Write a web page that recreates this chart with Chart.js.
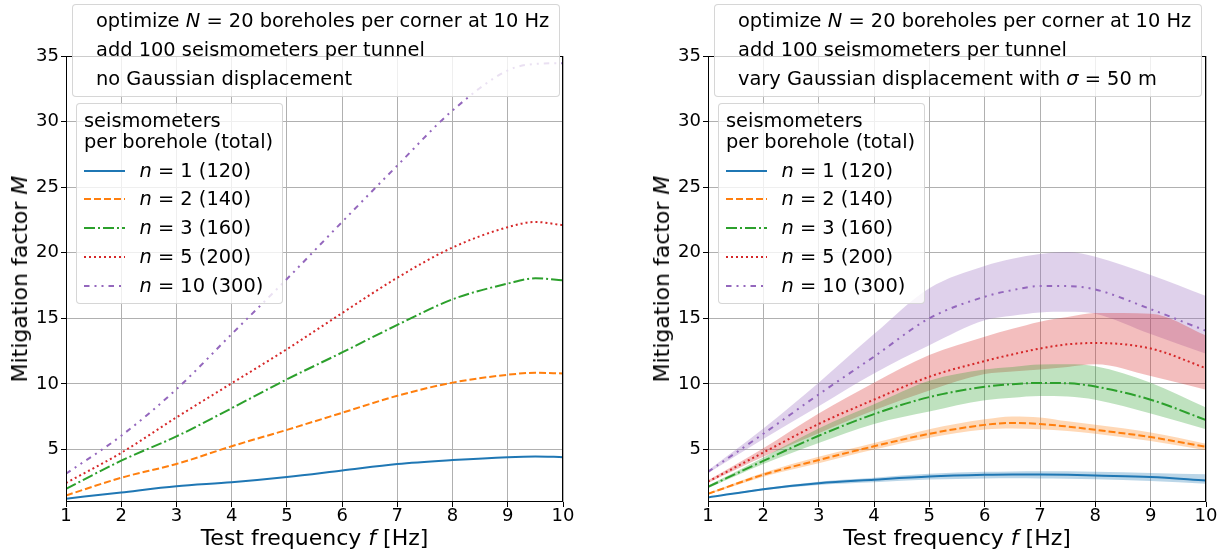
<!DOCTYPE html>
<html>
<head>
<meta charset="utf-8">
<script src="https://cdn.jsdelivr.net/npm/chart.js@4"></script>
<style>
  html, body { margin: 0; padding: 0; background: #fff; }
  body { width: 1231px; height: 556px; position: relative; overflow: hidden; font-family: 'DejaVu Sans', sans-serif; color: #000; }
  canvas { position: absolute; top: 0; }
  .box { position: absolute; background: rgba(255,255,255,0.8); border: 1px solid rgba(204,204,204,0.8); border-radius: 4px; box-sizing: border-box; }
  .txt { position: absolute; font-size: 19.4px; line-height: 24px; white-space: nowrap; }
  .axis-title { position: absolute; font-size: 22px; line-height: 26px; white-space: nowrap; transform: translate(-50%, -50%); }
  .axis-title.y { transform: translate(-50%, -50%) rotate(-90deg); }
  .handle { position: absolute; height: 6px; line-height: 0; }
  .handle svg { display: block; }
</style>
</head>
<body>
<canvas id="leftChart" width="615" height="556" style="left:0"></canvas>
<canvas id="rightChart" width="616" height="556" style="left:615px"></canvas>
<div id="overlay"></div>
<script>
// axis ticks
const xTicks = [1, 2, 3, 4, 5, 6, 7, 8, 9, 10];
const yTicks = [5, 10, 15, 20, 25, 30, 35];

// legend entries
const nValues = [1, 2, 3, 5, 10];
const totals = [120, 140, 160, 200, 300];

// left panel: no Gaussian displacement
const leftFreqs = [1, 2, 3, 4, 5, 6, 7, 8, 9, 9.5, 10];
const leftN1 = [1.25, 1.73, 2.2, 2.5, 2.9, 3.4, 3.9, 4.2, 4.42, 4.47, 4.42];
const leftN2 = [1.5, 2.85, 3.9, 5.25, 6.5, 7.8, 9.1, 10.1, 10.7, 10.85, 10.8];
const leftN3 = [2.0, 4.15, 6.0, 8.15, 10.35, 12.4, 14.5, 16.45, 17.65, 18.05, 17.9];
const leftN5 = [2.45, 4.75, 7.45, 10.05, 12.65, 15.4, 18.1, 20.4, 21.95, 22.35, 22.1];
const leftN10 = [3.15, 6.05, 9.6, 13.8, 18.0, 22.35, 26.65, 30.85, 33.9, 34.4, 34.45];

// right panel: Gaussian displacement, sigma = 50 m (line, low, high)
const rightFreqs = [1, 2, 3, 4, 5, 6, 6.5, 7, 7.5, 8, 9, 10];
const rightN1 = [1.35, 1.98, 2.43, 2.7, 2.94, 3.07, 3.1, 3.1, 3.08, 3.02, 2.9, 2.64];
const rightN1Lo = [1.33, 1.9, 2.3, 2.5, 2.72, 2.8, 2.82, 2.8, 2.78, 2.74, 2.6, 2.4];
const rightN1Hi = [1.37, 2.05, 2.55, 2.85, 3.15, 3.3, 3.33, 3.35, 3.34, 3.3, 3.22, 3.12];
const rightN2 = [1.62, 3.08, 4.2, 5.25, 6.2, 6.88, 7.03, 6.95, 6.75, 6.5, 5.95, 5.2];
const rightN2Lo = [1.57, 2.93, 3.95, 5.0, 5.9, 6.52, 6.6, 6.55, 6.42, 6.2, 5.65, 4.95];
const rightN2Hi = [1.67, 3.23, 4.45, 5.5, 6.55, 7.3, 7.52, 7.45, 7.15, 6.88, 6.3, 5.45];
const rightN3 = [2.15, 4.13, 6.05, 7.7, 9.0, 9.78, 9.98, 10.08, 10.05, 9.8, 8.8, 7.25];
const rightN3Lo = [2.05, 3.9, 5.5, 6.95, 7.9, 8.75, 8.95, 9.08, 9.05, 8.8, 7.75, 6.55];
const rightN3Hi = [2.25, 4.4, 6.6, 8.45, 10.25, 11.1, 11.3, 11.48, 11.5, 11.35, 10.1, 8.2];
const rightN5 = [2.55, 4.77, 6.95, 8.8, 10.55, 11.75, 12.25, 12.7, 13.02, 13.12, 12.7, 11.2];
const rightN5Lo = [2.45, 4.45, 6.25, 8.0, 9.5, 10.75, 10.95, 11.1, 11.3, 11.5, 10.6, 9.55];
const rightN5Hi = [2.65, 5.1, 7.75, 10.1, 12.2, 13.6, 14.2, 14.75, 15.1, 15.4, 15.35, 13.7];
const rightN10 = [3.3, 6.2, 9.2, 12.08, 15.0, 16.65, 17.15, 17.46, 17.46, 17.2, 15.7, 14.05];
const rightN10Lo = [3.2, 5.8, 8.3, 10.8, 12.95, 14.85, 15.2, 15.45, 15.5, 15.35, 13.8, 12.3];
const rightN10Hi = [3.4, 6.6, 10.1, 13.8, 17.3, 19.0, 19.55, 19.9, 20.05, 19.7, 18.3, 16.7];

const colors = ['#1f77b4', '#ff7f0e', '#2ca02c', '#d62728', '#9467bd'];
const bandColors = ['rgba(31,119,180,0.3)', 'rgba(255,127,14,0.3)', 'rgba(44,160,44,0.3)', 'rgba(214,39,40,0.3)', 'rgba(148,103,189,0.3)'];
const dashes = [[], [7, 3], [11, 3, 2, 3], [2, 3], [5.5, 5, 2, 5, 2, 5]];

const toPoints = (xs, ys) => xs.map((x, i) => ({ x: x, y: ys[i] }));

// black box round the plot area, like matplotlib spines
const framePlugin = {
  id: 'frame',
  afterDatasetsDraw(chart) {
    const { ctx, chartArea: a } = chart;
    ctx.save();
    ctx.strokeStyle = '#000';
    ctx.lineWidth = 1;
    ctx.strokeRect(Math.round(a.left) + 0.5, Math.round(a.top) + 0.5,
      Math.round(a.right - a.left) - 1, Math.round(a.bottom - a.top) - 1);
    ctx.restore();
  }
};

function buildOptions(yWidth, rightPad) {
  const grid = { color: '#b0b0b0', lineWidth: 1, tickColor: '#000', tickLength: 5, tickWidth: 1 };
  const tickFont = { family: 'DejaVu Sans', size: 18, lineHeight: 1 };
  return {
    responsive: false,
    animation: false,
    layout: { padding: { top: 56, right: rightPad, left: 0, bottom: 0 } },
    plugins: { legend: { display: false }, tooltip: { enabled: false } },
    elements: { point: { radius: 0 }, line: { borderWidth: 2, cubicInterpolationMode: 'monotone' } },
    scales: {
      x: {
        type: 'linear', min: 1, max: 10,
        afterBuildTicks: s => { s.ticks = xTicks.map(v => ({ value: v })); },
        afterFit: s => { s.height = 54; },
        grid: grid,
        border: { display: false },
        ticks: { font: tickFont, color: '#000', padding: 0, autoSkip: false, maxRotation: 0 }
      },
      y: {
        type: 'linear', min: 1, max: 35,
        afterBuildTicks: s => { s.ticks = yTicks.map(v => ({ value: v })); },
        afterFit: s => { s.width = yWidth; },
        grid: grid,
        border: { display: false },
        ticks: { font: tickFont, color: '#000', padding: 2, autoSkip: false }
      }
    }
  };
}

// left chart
const leftSeries = [leftN1, leftN2, leftN3, leftN5, leftN10];
new Chart(document.getElementById('leftChart').getContext('2d'), {
  type: 'line',
  data: {
    datasets: leftSeries.map((ys, i) => ({
      data: toPoints(leftFreqs, ys),
      borderColor: colors[i],
      borderDash: dashes[i],
      fill: false
    }))
  },
  options: buildOptions(66, 615 - 563),
  plugins: [framePlugin]
});

// right chart with bands
const rightSeries = [rightN1, rightN2, rightN3, rightN5, rightN10];
const rightLo = [rightN1Lo, rightN2Lo, rightN3Lo, rightN5Lo, rightN10Lo];
const rightHi = [rightN1Hi, rightN2Hi, rightN3Hi, rightN5Hi, rightN10Hi];
const rightDatasets = [];
rightSeries.forEach((ys, i) => {
  rightDatasets.push({
    data: toPoints(rightFreqs, rightLo[i]),
    borderColor: 'rgba(0,0,0,0)', borderWidth: 0, fill: false, order: 2
  });
  rightDatasets.push({
    data: toPoints(rightFreqs, rightHi[i]),
    borderColor: 'rgba(0,0,0,0)', borderWidth: 0, fill: '-1',
    backgroundColor: bandColors[i], order: 2
  });
  rightDatasets.push({
    data: toPoints(rightFreqs, ys),
    borderColor: colors[i], borderDash: dashes[i], fill: false, order: 1
  });
});
new Chart(document.getElementById('rightChart').getContext('2d'), {
  type: 'line',
  data: { datasets: rightDatasets },
  options: buildOptions(708 - 615, 616 - (1206 - 615)),
  plugins: [framePlugin]
});

// text boxes, legends and axis titles
const overlay = document.getElementById('overlay');
function el(cls, css, html) {
  const d = document.createElement('div');
  d.className = cls;
  d.style.cssText = css;
  d.innerHTML = html;
  overlay.appendChild(d);
  return d;
}

function addPanelText(plotLeft, plotRight, infoLines) {
  el('box', `left:${plotLeft + 6}px;top:4px;width:488px;height:93px`, '');
  [21, 50, 79].forEach((cy, i) => {
    el('txt', `left:${plotLeft + 30}px;top:${cy - 12}px`, infoLines[i]);
  });
  el('box', `left:${plotLeft + 10}px;top:103px;width:207px;height:201px`, '');
  ['seismometers', 'per borehole (total)'].forEach((t, i) => {
    el('txt', `left:${plotLeft + 18}px;top:${[120.7, 142.3][i] - 12}px`, t);
  });
  [170.7, 199.3, 228.3, 257, 285.7].forEach((cy, i) => {
    const dash = dashes[i].length ? `stroke-dasharray="${dashes[i].join(' ')}"` : '';
    el('handle', `left:${plotLeft + 17.5}px;top:${cy - 3}px`,
      `<svg width="41" height="6"><line x1="0" y1="3" x2="41" y2="3" stroke="${colors[i]}" stroke-width="2" ${dash}/></svg>`);
    el('txt', `left:${plotLeft + 73.5}px;top:${cy - 12}px`, `<i>n</i> = ${nValues[i]} (${totals[i]})`);
  });
  el('axis-title', `left:${(plotLeft + plotRight) / 2}px;top:538px`, 'Test frequency <i>f</i> [Hz]');
}

addPanelText(66, 563, [
  'optimize <i>N</i> = 20 boreholes per corner at 10 Hz',
  'add 100 seismometers per tunnel',
  'no Gaussian displacement'
]);
addPanelText(708, 1206, [
  'optimize <i>N</i> = 20 boreholes per corner at 10 Hz',
  'add 100 seismometers per tunnel',
  'vary Gaussian displacement with <i>σ</i> = 50 m'
]);
el('axis-title y', 'left:20px;top:279px', 'Mitigation factor <i>M</i>');
el('axis-title y', 'left:662px;top:279px', 'Mitigation factor <i>M</i>');
</script>
</body>
</html>
